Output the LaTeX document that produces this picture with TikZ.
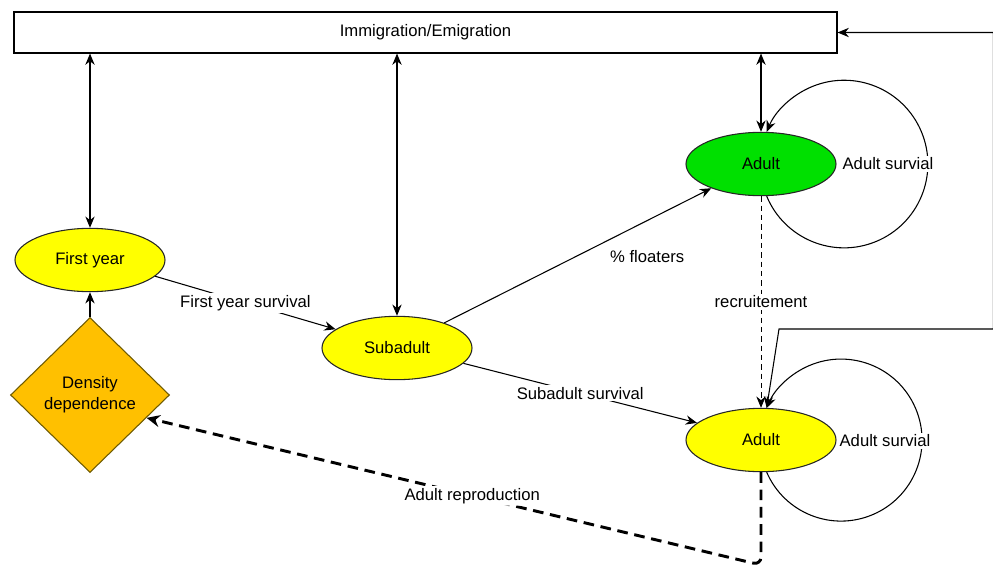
\documentclass[tikz,border=0pt]{standalone}
\usepackage{fontspec}
\setmainfont{Liberation Sans}
\usepackage{tikz}
\usetikzlibrary{shapes.geometric,arrows.meta}

\definecolor{stageyellow}{RGB}{255,255,0}
\definecolor{stagegreen}{RGB}{0,224,0}
\definecolor{ddorange}{RGB}{255,192,0}
\definecolor{ddline}{RGB}{110,90,0}

\begin{document}
\begin{tikzpicture}[x=0.75pt,y=0.75pt,yscale=-1,xscale=1,
        font=\fontsize{12.5}{16}\selectfont,
        stage/.style={ellipse,draw=black!85,line width=0.8pt,minimum width=112.5pt,minimum height=47.5pt,inner sep=0pt},
        flow/.style={line width=0.8pt,-{Stealth[length=8.5pt,width=7pt]}},
        both/.style={line width=0.8pt,{Stealth[length=8.5pt,width=7pt]}-{Stealth[length=8.5pt,width=7pt]}},
        lbl/.style={fill=white,inner sep=1.5pt}]
    \useasboundingbox (0,0) rectangle (993,568);
    %Shape: Rectangle
    \node [draw,line width=0.8pt,minimum width=617.25pt,minimum height=30.75pt,inner sep=0pt] (mig) at (425.5,32.5) {Immigration/Emigration};
    %Shape: Ellipse
    \node [stage,fill=stageyellow] (fy) at (90,260) {First year};
    \node [stage,fill=stageyellow] (sub) at (397,348) {Subadult};
    \node [stage,fill=stagegreen] (ad1) at (761,164) {Adult};
    \node [stage,fill=stageyellow] (ad2) at (761,440) {Adult};
    %Shape: Diamond
    \node [diamond,draw=ddline,fill=ddorange,line width=0.8pt,minimum width=119.25pt,minimum height=116.25pt,inner sep=0pt,align=center] (dd) at (90,395) {Density\\dependence};
    %Straight Lines
    \draw [both] (mig.south -| fy.north) -- (fy.north);
    \draw [both] (mig.south -| sub.north) -- (sub.north);
    \draw [both] (mig.south -| ad1.north) -- (ad1.north);
    \draw [flow] (dd.north) -- (fy.south);
    \draw [flow] (fy.-14) -- node [lbl] {First year survival} (sub.163);
    \draw [flow] (sub.28) -- node [pos=0.76,yshift=-27pt] {\% floaters} (ad1.206);
    \draw [flow] (sub.-13) -- node [lbl] {Subadult survival} (ad2.165);
    \draw [flow,line width=0.6pt,dash pattern=on 4pt off 3pt] (ad1.south) -- node [lbl] {recruitement} (ad2.north);
    %Shape: Arc
    \draw [flow] (ad1.-80) arc [start angle=157.5,end angle=-157.5,radius=83.8];
    \draw [flow] (ad2.-80) arc [start angle=156.7,end angle=-156.7,radius=81];
    % Text Node
    \node [lbl] (s1) at (888,164) {Adult survial};
    \node [lbl] (s2) at (885,441) {Adult survial};
    %Straight Lines
    \coordinate (re1) at (993.4,32.5);
    \coordinate (re2) at (993.4,329);
    \coordinate (re3) at (779,329);
    \draw [both] (mig.east) -- (re1) -- (re2) -- (re3) -- (ad2.80);
    \coordinate (rb) at (761,565);
    \draw [line width=2.2pt,dash pattern=on 8pt off 5pt,rounded corners=6pt,-{Stealth[length=10pt,width=9pt]}] (ad2.south) -- (rb) -- node [lbl,pos=0.47] {Adult reproduction} (dd.-22);
\end{tikzpicture}
\end{document}
